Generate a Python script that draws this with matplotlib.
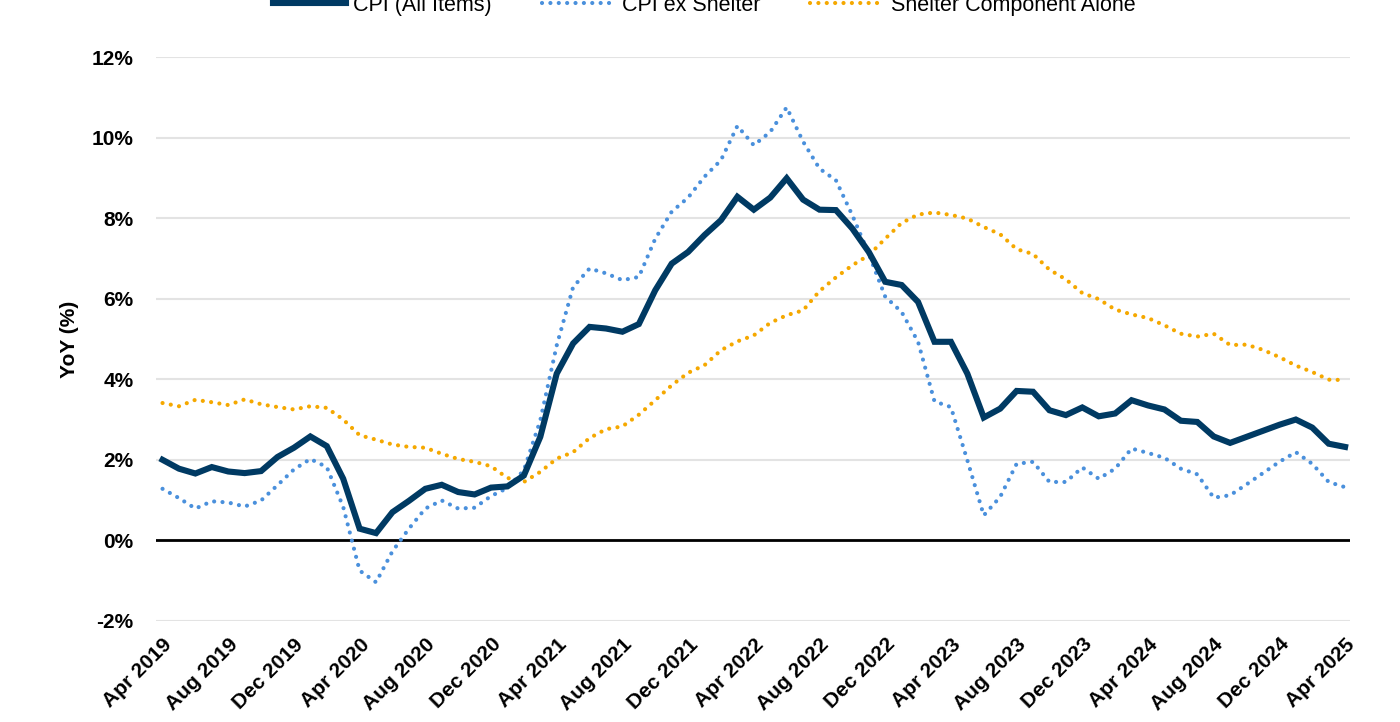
#Librerias
import numpy as np
import matplotlib.pyplot as plt

# Datos mensuales YoY (%) de Apr 2019 a Apr 2025
cpi_todo = [2.00, 1.78, 1.66, 1.82, 1.71, 1.67, 1.72, 2.07, 2.30, 2.58, 2.34, 1.53,
            0.29, 0.18, 0.70, 0.98, 1.28, 1.38, 1.20, 1.14, 1.31, 1.34, 1.61, 2.57,
            4.14, 4.89, 5.30, 5.26, 5.18, 5.37, 6.21, 6.87, 7.16, 7.58, 7.95, 8.53,
            8.21, 8.51, 8.99, 8.46, 8.21, 8.20, 7.74, 7.16, 6.42, 6.34, 5.92, 4.93,
            4.93, 4.14, 3.05, 3.27, 3.71, 3.69, 3.23, 3.11, 3.30, 3.08, 3.15, 3.48,
            3.35, 3.25, 2.97, 2.94, 2.58, 2.42, 2.57, 2.72, 2.87, 3.00, 2.80, 2.40,
            2.32]

cpi_sin_vivienda = [1.28, 1.05, 0.79, 0.97, 0.94, 0.84, 0.99, 1.37, 1.76, 2.02, 1.82, 0.83,
                    -0.75, -1.04, -0.27, 0.29, 0.79, 0.99, 0.79, 0.81, 1.10, 1.30, 1.74, 2.98,
                    4.84, 6.29, 6.75, 6.63, 6.46, 6.54, 7.49, 8.16, 8.51, 9.03, 9.44, 10.29,
                    9.81, 10.14, 10.75, 9.90, 9.23, 8.94, 8.07, 7.11, 6.05, 5.67, 4.93, 3.45,
                    3.31, 1.99, 0.62, 1.08, 1.90, 1.95, 1.45, 1.45, 1.81, 1.53, 1.78, 2.28,
                    2.17, 2.05, 1.78, 1.64, 1.06, 1.12, 1.39, 1.67, 1.95, 2.19, 1.90, 1.45,
                    1.32]

vivienda = [3.41, 3.33, 3.49, 3.43, 3.36, 3.50, 3.38, 3.31, 3.25, 3.33, 3.29, 3.00,
            2.61, 2.50, 2.38, 2.32, 2.30, 2.15, 2.02, 1.95, 1.84, 1.55, 1.45, 1.70,
            2.03, 2.19, 2.54, 2.76, 2.83, 3.12, 3.48, 3.85, 4.16, 4.35, 4.72, 4.94,
            5.09, 5.40, 5.59, 5.71, 6.19, 6.53, 6.83, 7.08, 7.49, 7.88, 8.09, 8.14,
            8.08, 7.99, 7.78, 7.60, 7.23, 7.11, 6.72, 6.48, 6.14, 5.99, 5.73, 5.61,
            5.52, 5.34, 5.13, 5.06, 5.13, 4.85, 4.86, 4.73, 4.55, 4.34, 4.18, 3.99,
            3.98]

# Etiquetas del eje x (cada 4 meses)
etiquetas_x = ['Apr 2019', 'Aug 2019', 'Dec 2019', 'Apr 2020', 'Aug 2020', 'Dec 2020',
               'Apr 2021', 'Aug 2021', 'Dec 2021', 'Apr 2022', 'Aug 2022', 'Dec 2022',
               'Apr 2023', 'Aug 2023', 'Dec 2023', 'Apr 2024', 'Aug 2024', 'Dec 2024',
               'Apr 2025']

plt.rcParams['font.family'] = ['Liberation Sans', 'DejaVu Sans']

x = np.arange(len(cpi_todo))

fig = plt.figure(figsize=(14, 7.22), dpi=100)
ax = fig.add_axes([0.1114, 0.140, 0.8529, 0.781])

# Lineas
ax.plot(x, cpi_todo, color='#003a63', linewidth=4.4, solid_joinstyle='miter',
        label='CPI (All Items)', zorder=4)
ax.plot(x, cpi_sin_vivienda, color='#4a90dc', linewidth=3, linestyle=(0, (0.01, 2.0)),
        dash_capstyle='round', label='CPI ex Shelter', zorder=3)
ax.plot(x, vivienda, color='#f5a800', linewidth=3, linestyle=(0, (0.01, 2.0)),
        dash_capstyle='round', label='Shelter Component Alone', zorder=3)

# Linea del cero
ax.axhline(0, color='black', linewidth=2, zorder=2)

# Ejes
ax.set_xlim(-0.4, 72.3)
ax.set_ylim(-2, 12)
ax.set_yticks(np.arange(-2, 13, 2))
ax.set_yticklabels([f'{v}%' for v in range(-2, 13, 2)], fontsize=15, fontweight='bold')
ax.set_xticks(np.arange(0, 73, 4))
ax.set_xticklabels(etiquetas_x, fontsize=15, fontweight='bold', rotation=45,
                   ha='right', rotation_mode='anchor')
ax.tick_params(axis='both', length=0)
ax.tick_params(axis='y', pad=16)
ax.tick_params(axis='x', pad=10)
ax.grid(axis='y', color='#e3e3e3', linewidth=1.5)
ax.set_axisbelow(True)
for lado in ax.spines.values():
    lado.set_visible(False)

ax.set_ylabel('YoY (%)', fontsize=15, fontweight='bold')
ax.yaxis.set_label_coords(-0.0645, 0.5)

# Leyenda arriba
fig.legend(loc='center', bbox_to_anchor=(0.503, 0.993), ncol=3, frameon=False,
           fontsize=15.5, handlelength=3.4, handletextpad=0.35, columnspacing=2.3)

plt.savefig('out.png', dpi=100)
